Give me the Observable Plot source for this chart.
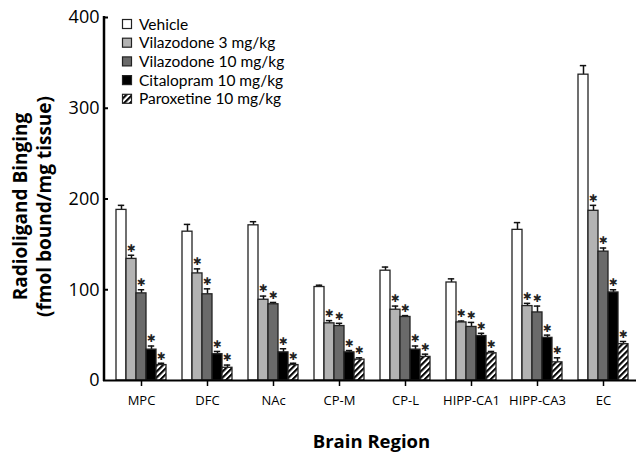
<!DOCTYPE html>
<html>
<head>
<meta charset="utf-8">
<script src="https://cdn.jsdelivr.net/npm/d3@7"></script>
<script src="https://cdn.jsdelivr.net/npm/@observablehq/plot@0.6"></script>
<style>
  html, body { margin: 0; padding: 0; background: #fff; overflow: hidden; }
  #chart { width: 639px; height: 452px; }
</style>
</head>
<body>
<div id="chart"></div>
<script>
const regions = ["MPC", "DFC", "NAc", "CP-M", "CP-L", "HIPP-CA1", "HIPP-CA3", "EC"];
const treatments = ["Vehicle", "Vilazodone 3 mg/kg", "Vilazodone 10 mg/kg", "Citalopram 10 mg/kg", "Paroxetine 10 mg/kg"];

const vehicle    = [188, 164, 171, 103, 121, 108, 166, 337];
const vehicleErr = [5, 8, 4, 2, 4, 4, 8, 10];
const vila3      = [134, 118, 89, 63, 78, 64, 82, 187];
const vila3Err   = [4, 5, 4, 3, 4, 1.5, 3, 6];
const vila10     = [96, 95, 84, 60, 70, 59, 75, 142];
const vila10Err  = [4, 6, 2, 3, 1.5, 5, 7, 4];
const cital      = [34, 29, 31, 31, 34, 49, 47, 97];
const citalErr   = [4, 3, 4, 2, 4, 3, 3, 3];
const parox      = [17, 14, 17, 23, 26, 30, 20, 40];
const paroxErr   = [2, 3, 2, 2, 3, 2, 5, 3];
const significant = [false, true, true, true, true];

const yTicks = [0, 100, 200, 300, 400];
const yTitle = ["Radioligand Binging", "(fmol bound/mg tissue)"];
const xTitle = "Brain Region";

const fills = {
  "Vehicle": "#ffffff",
  "Vilazodone 3 mg/kg": "#b3b3b3",
  "Vilazodone 10 mg/kg": "#6a6a6a",
  "Citalopram 10 mg/kg": "#000000",
  "Paroxetine 10 mg/kg": "url(#hatch)"
};

const series = [[vehicle, vehicleErr], [vila3, vila3Err], [vila10, vila10Err], [cital, citalErr], [parox, paroxErr]];
const table = [];
regions.forEach((r, i) => {
  treatments.forEach((t, j) => {
    const v = series[j][0][i], e = series[j][1][i];
    table.push({region: r, treatment: t, value: v, err: e, top: v + e, sig: significant[j]});
  });
});

const plot = Plot.plot({
  width: 639,
  height: 452,
  marginLeft: 104,
  marginRight: 0,
  marginTop: 17,
  marginBottom: 72,
  style: {background: "white", color: "black", fontFamily: "'Open Sans', sans-serif", overflow: "visible"},
  fx: {domain: regions, padding: 0, label: null},
  x: {domain: treatments, paddingInner: 0, paddingOuter: 0.55, axis: null},
  y: {domain: [0, 400], label: null},
  color: {type: "identity"},
  marks: [
    Plot.ruleX(table, {fx: "region", x: "treatment", y1: "value", y2: "top", stroke: "#111", strokeWidth: 1.5}),
    Plot.tickY(table, {fx: "region", x: "treatment", y: "top", stroke: "#111", strokeWidth: 1.5, insetLeft: 1.8, insetRight: 1.8}),
    Plot.barY(table, {fx: "region", x: "treatment", y: "value", fill: d => fills[d.treatment], stroke: "#222", strokeWidth: 1.3}),
    Plot.text(table.filter(d => d.sig), {fx: "region", x: "treatment", y: "top", text: () => "✱", dy: -7, fontSize: 10.5, fontFamily: "DejaVu Sans", fill: "#222"}),
    Plot.ruleY([0], {stroke: "black", strokeWidth: 2}),
    Plot.axisY({ticks: yTicks, tickSize: 5, tickPadding: 4, fontSize: 18, label: null, strokeWidth: 2}),
    Plot.axisFx({anchor: "bottom", tickSize: 6, tickPadding: 9, fontSize: 13, label: null, strokeWidth: 1.5})
  ]
});

document.getElementById("chart").appendChild(plot);
const svg = d3.select(plot);

// hatch pattern
const defs = svg.insert("defs", ":first-child");
const pat = defs.append("pattern").attr("id", "hatch").attr("patternUnits", "userSpaceOnUse")
  .attr("width", 4.2).attr("height", 4.2).attr("patternTransform", "rotate(45)");
pat.append("rect").attr("width", 4.2).attr("height", 4.2).attr("fill", "white");
pat.append("line").attr("x1", 1).attr("x2", 1).attr("y1", 0).attr("y2", 4.2).attr("stroke", "black").attr("stroke-width", 2.2);

const ys = plot.scale("y");
const fxs = plot.scale("fx");
const x0 = fxs.range[0];
const x1 = fxs.range[1];

// y axis line
svg.append("line").attr("x1", x0).attr("x2", x0)
  .attr("y1", ys.apply(yTicks[0]) + 1).attr("y2", ys.apply(yTicks[yTicks.length - 1]) - 1)
  .attr("stroke", "black").attr("stroke-width", 2.5);

// y title
const yMid = (ys.apply(0) + ys.apply(400)) / 2 + 8;
svg.append("text").attr("transform", `translate(27,${yMid}) rotate(-90)`)
  .attr("text-anchor", "middle").attr("font-size", 19).attr("font-weight", "bold")
  .attr("font-family", "'Open Sans', sans-serif").text(yTitle[0]);
svg.append("text").attr("transform", `translate(51,${yMid}) rotate(-90)`)
  .attr("text-anchor", "middle").attr("font-size", 19).attr("font-weight", "bold")
  .attr("font-family", "'Open Sans', sans-serif").text(yTitle[1]);

// x title
svg.append("text").attr("x", (x0 + x1) / 2).attr("y", 448)
  .attr("text-anchor", "middle").attr("font-size", 18.5).attr("font-weight", "bold")
  .attr("font-family", "'Open Sans', sans-serif").text(xTitle);

// legend
const lg = svg.append("g").attr("font-family", "Lato, sans-serif").attr("font-size", 15.5)
  .attr("text-anchor", "start");
treatments.forEach((t, i) => {
  const cy = 24 + i * 18.7;
  lg.append("rect").attr("x", 122.5).attr("y", cy - 4.5).attr("width", 9).attr("height", 9)
    .attr("fill", fills[t]).attr("stroke", "#222").attr("stroke-width", 1.2);
  lg.append("text").attr("x", 139).attr("y", cy).attr("dy", "0.36em").text(t);
});
</script>
</body>
</html>
